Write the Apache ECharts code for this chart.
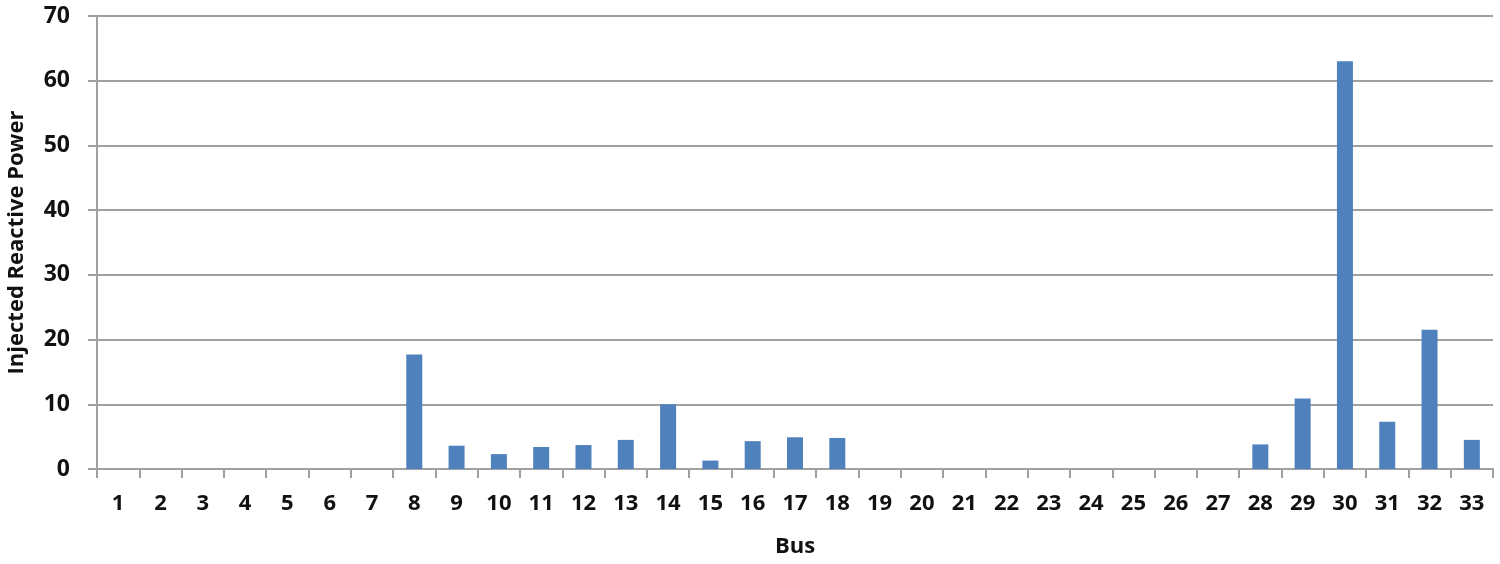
<!DOCTYPE html>
<html>
<head>
<meta charset="utf-8">
<script src="https://cdn.jsdelivr.net/npm/echarts@6/dist/echarts.min.js"></script>
<style>
  html, body { margin: 0; padding: 0; background: #fff; }
  #chart { width: 1500px; height: 564px; }
</style>
</head>
<body>
<div id="chart"></div>
<script>
// bus numbers 1..33
var buses = ['1','2','3','4','5','6','7','8','9','10','11','12','13','14','15','16','17',
  '18','19','20','21','22','23','24','25','26','27','28','29','30','31','32','33'];
// injected reactive power per bus
var injected = [0, 0, 0, 0, 0, 0, 0, 17.7, 3.6, 2.3, 3.4, 3.7, 4.5, 10.0, 1.3, 4.3, 4.9,
  4.8, 0, 0, 0, 0, 0, 0, 0, 0, 0, 3.8, 10.9, 63.0, 7.3, 21.5, 4.5];
var yTicks = [0, 10, 20, 30, 40, 50, 60, 70];

var myChart = echarts.init(document.getElementById('chart'));
var font = '"Open Sans", "Liberation Sans", sans-serif';
var option = {
  animation: false,
  grid: { left: 97, right: 7, top: 16, bottom: 95, outerBoundsMode: 'none', containLabel: false },
  xAxis: {
    type: 'category',
    data: buses,
    name: 'Bus',
    nameLocation: 'middle',
    nameGap: 67,
    nameTextStyle: { fontFamily: font, fontWeight: 'bold', fontSize: 22, color: '#111' },
    axisLine: { lineStyle: { color: '#a0a0a0', width: 2 } },
    axisTick: { show: true, interval: 0, length: 9, lineStyle: { color: '#a0a0a0', width: 2 } },
    axisLabel: { interval: 0, margin: 24, fontFamily: font, fontWeight: 'bold', fontSize: 22, color: '#111' }
  },
  yAxis: {
    type: 'value',
    min: yTicks[0],
    max: yTicks[yTicks.length - 1],
    interval: 10,
    name: 'Injected Reactive Power',
    nameLocation: 'middle',
    nameGap: 69,
    nameTextStyle: { fontFamily: font, fontWeight: 'bold', fontSize: 22, color: '#111' },
    axisLine: { show: true, lineStyle: { color: '#a0a0a0', width: 2 } },
    axisTick: { show: true, length: 9, lineStyle: { color: '#a0a0a0', width: 2 } },
    splitLine: { lineStyle: { color: '#a0a0a0', width: 2 } },
    axisLabel: { margin: 27, fontFamily: font, fontWeight: 'bold', fontSize: 23, color: '#111' }
  },
  series: [{
    type: 'bar',
    data: injected,
    barWidth: 16,
    itemStyle: { color: '#4f81bd' }
  }]
};
myChart.setOption(option);
</script>
</body>
</html>
